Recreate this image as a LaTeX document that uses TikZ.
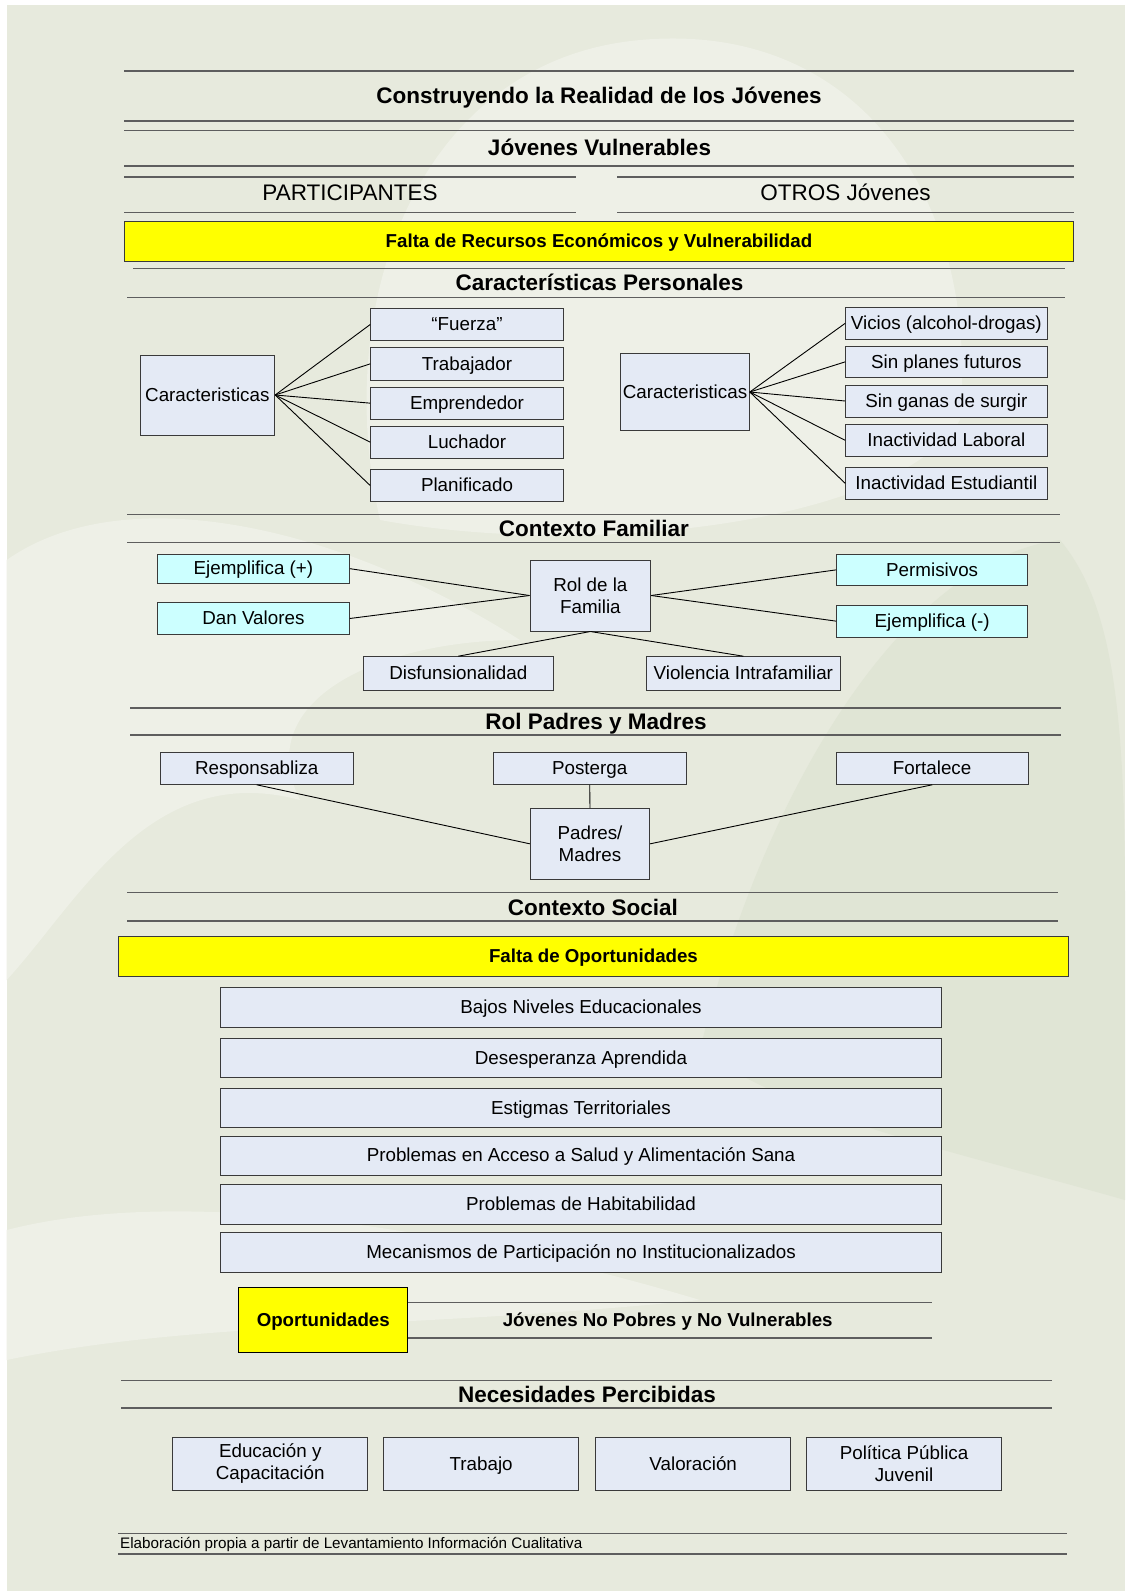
\documentclass[tikz,border=0pt]{standalone}
\usepackage{fontspec}
\setmainfont{Liberation Sans}
\definecolor{bgc}{HTML}{E7EADD}
\definecolor{bglight}{HTML}{EEF0E7}
\definecolor{bgdark}{HTML}{E0E5D5}
\definecolor{boxblue}{HTML}{E4EAF5}
\definecolor{cyanbox}{HTML}{CCFFFF}
\definecolor{yel}{HTML}{FFFF00}
\definecolor{hdrgray}{HTML}{5E5E5E}
\definecolor{bordc}{HTML}{3A3A3A}
\newcommand\fsbox{\fontsize{18.8}{22}\selectfont}
\newcommand\fshead{\fontsize{22.5}{26}\selectfont\bfseries}
\newcommand\fsreg{\fontsize{22.5}{26}\selectfont}
\newcommand\fsyel{\fontsize{18.7}{22}\selectfont\bfseries}
\newcommand\fsfoot{\fontsize{15.2}{18}\selectfont}
% single-line box
\newcommand\bxn[7][]{\node[bx,one,#1,minimum width={(#5-#3)*1pt},minimum height={(#6-#4)*1pt}] (#2) at ({(#3+#5)/2},{(#4+#6)/2}) {#7};}
% multi-line box
\newcommand\bxm[7][]{\node[bx,#1,minimum width={(#5-#3)*1pt},minimum height={(#6-#4)*1pt}] (#2) at ({(#3+#5)/2},{(#4+#6)/2}) {#7};}
\tikzset{
  hline/.style={draw=hdrgray, line width=1.5pt},
  bx/.style={draw=bordc, line width=1pt, fill=boxblue, inner sep=0pt, align=center, font=\fsbox},
  one/.style={text height=14.5pt, text depth=1.9pt},
  cy/.style={fill=cyanbox},
  yb/.style={fill=yel, draw=bordc, font=\fsyel},
  htext/.style={inner sep=0pt, font=\fshead, text height=18pt, text depth=2.3pt},
  rtext/.style={inner sep=0pt, font=\fsreg, text height=16.5pt, text depth=3.8pt},
  conn/.style={draw=black, line width=0.9pt},
}
\begin{document}
\begin{tikzpicture}[x=1pt,y=-1pt]
\useasboundingbox (0,0) rectangle (1125,1591);
% background
\fill[white] (0,0) rectangle (1125,1591);
\fill[bgc] (6.7,5) rectangle (1125,1591);
\begin{scope}
\clip (6.7,5) rectangle (1125,1591);
\fill[bglight] (380,520) .. controls (330,300) and (420,60) .. (640,40) .. controls (860,20) and (980,200) .. (960,420) .. controls (900,520) and (600,560) .. cycle;
\fill[bglight] (6.7,560) .. controls (120,480) and (330,520) .. (520,640) .. controls (380,640) and (250,700) .. (300,800) .. controls (150,760) and (80,900) .. (6.7,980) -- cycle;
\fill[bgdark] (700,1050) .. controls (760,800) and (900,560) .. (1060,540) .. controls (1110,600) and (1125,700) .. (1125,900) -- (1125,1200) .. controls (950,1150) and (800,1120) .. cycle;
\fill[bglight] (6.7,1230) .. controls (200,1180) and (500,1240) .. (700,1300) .. controls (400,1330) and (200,1320) .. (6.7,1360) -- cycle;
\end{scope}
% ---------- header bands ----------
\draw[hline] (124.4,71) -- (1073.5,71);
\draw[hline] (124.4,121) -- (1073.5,121);
\node[htext] (title) at (599,96) {Construyendo la Realidad de los Jóvenes};
\draw[hline] (124.4,130.3) -- (1073.5,130.3);
\draw[hline] (124.4,166) -- (1073.5,166);
\node[htext] (jv) at (599.5,148) {Jóvenes Vulnerables};
\draw[hline] (124.4,177) -- (576,177);
\draw[hline] (124.4,212.3) -- (576,212.3);
\node[rtext] (part) at (350,194.5) {PARTICIPANTES};
\draw[hline] (617,177) -- (1073.5,177);
\draw[hline] (617,212.3) -- (1073.5,212.3);
\node[rtext] (otros) at (845.5,194.5) {OTROS Jóvenes};
\bxn[yb]{falta1}{124.4}{221.7}{1073.5}{261}{Falta de Recursos Económicos y Vulnerabilidad}
\draw[hline] (133,268.3) -- (1064.5,268.3);
\draw[hline] (127,297.7) -- (1064.5,297.7);
\node[htext] (cp) at (599.5,283) {Características Personales};
% ---------- caracteristicas participantes ----------
\bxn{cl}{140}{355}{274.7}{435}{Caracteristicas}
\bxn{f1}{370.7}{308.3}{563.3}{340.7}{“Fuerza”}
\bxn{f2}{370.7}{347.7}{563.3}{380}{Trabajador}
\bxn{f3}{370.7}{387}{563.3}{419.3}{Emprendedor}
\bxn{f4}{370.7}{426}{563.3}{458.3}{Luchador}
\bxn{f5}{370.7}{469.3}{563.3}{501.7}{Planificado}
\foreach \b in {f1,f2,f3,f4,f5} \draw[conn] (cl.east) -- (\b.west);
% ---------- caracteristicas otros ----------
\bxn{cr}{620.7}{353.3}{749.3}{430.7}{Caracteristicas}
\bxn{g1}{845.7}{307.3}{1047}{339.3}{Vicios (alcohol-drogas)}
\bxn{g2}{845.7}{346}{1047}{377.7}{Sin planes futuros}
\bxn{g3}{845.7}{385}{1047}{417}{Sin ganas de surgir}
\bxn{g4}{845.7}{424.3}{1047}{456.3}{Inactividad Laboral}
\bxn{g5}{845.7}{467.3}{1047}{499.3}{Inactividad Estudiantil}
\foreach \b in {g1,g2,g3,g4,g5} \draw[conn] (cr.east) -- (\b.west);
% ---------- contexto familiar ----------
\draw[hline] (127,514.7) -- (1060,514.7);
\draw[hline] (127,542.3) -- (1060,542.3);
\node[htext] (cf) at (594,529) {Contexto Familiar};
\bxm{rol}{530}{560}{650.7}{631}{Rol de la\\Familia}
\bxn[cy]{e1}{157.5}{554}{349.3}{583.3}{Ejemplifica (+)}
\bxn[cy]{e2}{157.5}{602.7}{349.3}{634.3}{Dan Valores}
\bxn[cy]{p1}{836.7}{554}{1027.6}{585.7}{Permisivos}
\bxn[cy]{p2}{836.7}{605}{1027.6}{637.3}{Ejemplifica (-)}
\bxn{d1}{363.3}{656.7}{553.3}{690}{Disfunsionalidad}
\bxn{d2}{646.7}{656.7}{840}{690}{Violencia Intrafamiliar}
\draw[conn] (e1.east) -- (rol.west);
\draw[conn] (e2.east) -- (rol.west);
\draw[conn] (rol.east) -- (p1.west);
\draw[conn] (rol.east) -- (p2.west);
\draw[conn] (rol.south) -- (d1.north);
\draw[conn] (rol.south) -- (d2.north);
% ---------- rol padres y madres ----------
\draw[hline] (130,708) -- (1061,708);
\draw[hline] (130,735) -- (1061,735);
\node[htext] (rp) at (596,722) {Rol Padres y Madres};
\bxn{r1}{160}{752.7}{353.5}{784.3}{Responsabliza}
\bxn{r2}{493}{752.7}{686.4}{784.3}{Posterga}
\bxn{r3}{836.3}{752.7}{1028}{784.3}{Fortalece}
\bxm{pm}{530.3}{808.3}{649.7}{879.3}{Padres/\\Madres}
\draw[conn] (r1.south) -- (pm.west);
\draw[conn] (r2.south) -- (pm.north);
\draw[conn] (r3.south) -- (pm.east);
% ---------- contexto social ----------
\draw[hline] (127,892.7) -- (1058,892.7);
\draw[hline] (127,921) -- (1058,921);
\node[htext] (cs) at (593,908) {Contexto Social};
\bxn[yb]{falta2}{118.7}{936}{1068.2}{976}{Falta de Oportunidades}
\bxn{s1}{220.4}{987.7}{941.6}{1027.3}{Bajos Niveles Educacionales}
\bxn{s2}{220.4}{1038.3}{941.6}{1077.3}{Desesperanza Aprendida}
\bxn{s3}{220.4}{1088.3}{941.6}{1127.7}{Estigmas Territoriales}
\bxn{s4}{220.4}{1136}{941.6}{1175}{Problemas en Acceso a Salud y Alimentación Sana}
\bxn{s5}{220.4}{1184.3}{941.6}{1224}{Problemas de Habitabilidad}
\bxn{s6}{220.4}{1232.7}{941.6}{1272.3}{Mecanismos de Participación no Institucionalizados}
% ---------- oportunidades ----------
\bxn[yb, draw=black]{op}{238.7}{1287.3}{407.8}{1352.3}{Oportunidades}
\draw[hline] (op.east |- 0,1302.3) -- (932,1302.3);
\draw[hline] (op.east |- 0,1338) -- (932,1338);
\node[inner sep=0pt, font=\fsyel, text height=14.5pt, text depth=1.9pt] (np) at (667.7,1320) {Jóvenes No Pobres y No Vulnerables};
% ---------- necesidades ----------
\draw[hline] (121,1380.7) -- (1052,1380.7);
\draw[hline] (121,1408) -- (1052,1408);
\node[htext] (nec) at (587,1394.5) {Necesidades Percibidas};
\bxm{n1}{172.7}{1437.7}{367.8}{1490}{Educación y\\Capacitación}
\bxn{n2}{383.6}{1437.7}{578.7}{1490}{Trabajo}
\bxn{n3}{595.6}{1437.7}{790.8}{1490}{Valoración}
\bxm{n4}{806.5}{1437.7}{1001.6}{1490}{Política Pública\\Juvenil}
% ---------- footer ----------
\draw[hline] (118,1533.3) -- (1067,1533.3);
\draw[hline] (118,1554) -- (1067,1554);
\node[inner sep=0pt, anchor=west, font=\fsfoot, text height=12pt, text depth=2.2pt] (foot) at (120,1543.5) {Elaboración propia a partir de Levantamiento Información Cualitativa};
\end{tikzpicture}
\end{document}
